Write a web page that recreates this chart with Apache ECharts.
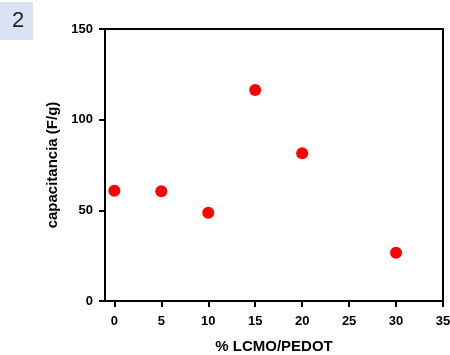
<!DOCTYPE html>
<html>
<head>
<meta charset="utf-8">
<script src="https://cdn.jsdelivr.net/npm/echarts@6/dist/echarts.min.js"></script>
<style>
  html, body { margin: 0; padding: 0; background: #fff; }
  #chart { width: 450px; height: 355px; }
</style>
</head>
<body>
<div id="chart"></div>
<script>
// % LCMO/PEDOT vs capacitancia
const pctLcmo = [0, 5, 10, 15, 20, 30];
const capacitance = [60.8, 60.5, 48.7, 116.4, 81.5, 26.6];
const xTicks = [0, 5, 10, 15, 20, 25, 30, 35];

const chart = echarts.init(document.getElementById("chart"));
const font = "'Liberation Sans', Arial, sans-serif";

chart.setOption({
  animation: false,
  grid: {
    left: 105, right: 7, top: 29, bottom: 54,
    outerBoundsMode: "none",
    show: true, borderColor: "#000", borderWidth: 2,
  },
  graphic: [
    {
      type: "rect",
      shape: { x: 0, y: 2, width: 33, height: 38 },
      style: { fill: "#dae3f3" },
    },
    {
      type: "text",
      x: 18, y: 21,
      style: {
        text: "2", fill: "#222", font: "22px " + font,
        textAlign: "center", textVerticalAlign: "middle",
      },
    },
  ],
  xAxis: {
    type: "value",
    min: -1, max: 35,
    name: "% LCMO/PEDOT",
    nameLocation: "middle",
    nameGap: 38,
    nameTextStyle: { fontFamily: font, fontWeight: "bold", fontSize: 15, color: "#000" },
    axisLine: { onZero: false, lineStyle: { color: "#000", width: 2 } },
    axisTick: { customValues: xTicks, length: 6, lineStyle: { color: "#000", width: 2 } },
    axisLabel: { customValues: xTicks, fontFamily: font, fontWeight: "bold", fontSize: 13, color: "#000", margin: 14 },
    splitLine: { show: false },
  },
  yAxis: {
    type: "value",
    min: 0, max: 150, interval: 50,
    name: "capacitancia (F/g)",
    nameLocation: "middle",
    nameGap: 44,
    nameTextStyle: { fontFamily: font, fontWeight: "bold", fontSize: 15, color: "#000" },
    axisLine: { show: true, onZero: false, lineStyle: { color: "#000", width: 2 } },
    axisTick: { show: true, length: 6, lineStyle: { color: "#000", width: 2 } },
    axisLabel: { fontFamily: font, fontWeight: "bold", fontSize: 13, color: "#000", margin: 12 },
    splitLine: { show: false },
  },
  series: [
    {
      type: "scatter",
      data: pctLcmo.map((x, i) => [x, capacitance[i]]),
      symbolSize: 12,
      itemStyle: { color: "#ff0000", opacity: 1 },
    },
  ],
});
</script>
</body>
</html>
